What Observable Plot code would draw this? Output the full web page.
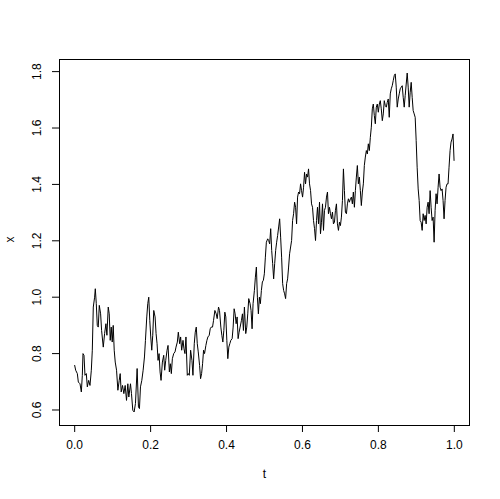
<!DOCTYPE html>
<html>
<head>
<meta charset="utf-8">
<script src="https://cdn.jsdelivr.net/npm/d3@7"></script>
<script src="https://cdn.jsdelivr.net/npm/@observablehq/plot@0.6"></script>
<style>
  html, body { margin: 0; padding: 0; background: #fff; }
  svg { display: block; }
</style>
</head>
<body>
<div id="chart"></div>
<script>
const t = [0,0.0026,0.0070,0.0096,0.0140,0.0175,0.0201,0.0219,0.0245,0.0271,0.0306,0.0333,0.0368,0.0403,0.0438,0.0464,0.0490,0.0525,0.0543,0.0569,0.0595,0.0621,0.0648,0.0683,0.0709,0.0753,0.0788,0.0823,0.0849,0.0884,0.0910,0.0936,0.0963,0.0989,0.1015,0.1041,0.1068,0.1103,0.1138,0.1173,0.1199,0.1225,0.1260,0.1295,0.1330,0.1365,0.1400,0.1426,0.1470,0.1496,0.1531,0.1566,0.1601,0.1645,0.1680,0.1706,0.1733,0.1768,0.1803,0.1838,0.1864,0.1899,0.1925,0.1951,0.1978,0.2004,0.2030,0.2056,0.2083,0.2118,0.2144,0.2170,0.2196,0.2223,0.2249,0.2275,0.2310,0.2345,0.2371,0.2398,0.2433,0.2459,0.2494,0.2520,0.2546,0.2573,0.2608,0.2643,0.2669,0.2704,0.2730,0.2765,0.2791,0.2818,0.2853,0.2879,0.2905,0.2931,0.2966,0.2993,0.3019,0.3054,0.3089,0.3115,0.3150,0.3176,0.3203,0.3229,0.3255,0.3290,0.3316,0.3343,0.3369,0.3395,0.3421,0.3456,0.3483,0.3509,0.3544,0.3570,0.3596,0.3631,0.3658,0.3693,0.3728,0.3754,0.3789,0.3815,0.3850,0.3876,0.3903,0.3929,0.3955,0.3981,0.4008,0.4034,0.4060,0.4086,0.4113,0.4148,0.4174,0.4200,0.4226,0.4253,0.4279,0.4305,0.4331,0.4358,0.4393,0.4419,0.4445,0.4471,0.4506,0.4533,0.4559,0.4585,0.4620,0.4646,0.4673,0.4699,0.4734,0.4760,0.4786,0.4813,0.4839,0.4865,0.4891,0.4918,0.4944,0.4970,0.4996,0.5023,0.5049,0.5084,0.5110,0.5136,0.5163,0.5189,0.5215,0.5241,0.5268,0.5294,0.5320,0.5346,0.5373,0.5399,0.5425,0.5451,0.5478,0.5504,0.5530,0.5556,0.5583,0.5609,0.5635,0.5661,0.5688,0.5714,0.5740,0.5766,0.5793,0.5819,0.5845,0.5871,0.5898,0.5924,0.5950,0.5976,0.6003,0.6029,0.6055,0.6081,0.6108,0.6134,0.6160,0.6186,0.6213,0.6239,0.6265,0.6291,0.6318,0.6344,0.6370,0.6396,0.6423,0.6449,0.6475,0.6501,0.6528,0.6554,0.6580,0.6606,0.6633,0.6659,0.6685,0.6711,0.6738,0.6764,0.6790,0.6816,0.6843,0.6869,0.6895,0.6921,0.6948,0.6974,0.7000,0.7026,0.7053,0.7079,0.7105,0.7131,0.7158,0.7184,0.7210,0.7236,0.7263,0.7289,0.7315,0.7341,0.7368,0.7394,0.7420,0.7446,0.7473,0.7499,0.7525,0.7551,0.7578,0.7604,0.7630,0.7656,0.7683,0.7709,0.7735,0.7761,0.7788,0.7814,0.7840,0.7866,0.7893,0.7919,0.7945,0.7971,0.7998,0.8024,0.8050,0.8076,0.8103,0.8129,0.8155,0.8181,0.8208,0.8234,0.8260,0.8286,0.8313,0.8339,0.8365,0.8391,0.8418,0.8444,0.8470,0.8496,0.8523,0.8549,0.8575,0.8601,0.8628,0.8654,0.8680,0.8706,0.8733,0.8759,0.8785,0.8811,0.8838,0.8864,0.8890,0.8916,0.8943,0.8969,0.8995,0.9021,0.9048,0.9074,0.9100,0.9126,0.9153,0.9179,0.9205,0.9231,0.9258,0.9284,0.9310,0.9336,0.9363,0.9389,0.9415,0.9441,0.9468,0.9494,0.9520,0.9546,0.9573,0.9599,0.9625,0.9651,0.9678,0.9704,0.9730,0.9756,0.9783,0.9809,0.9835,0.9861,0.9888,0.9914,0.9940,0.9966,0.9993];

const x = [0.758,0.741,0.729,0.699,0.693,0.664,0.723,0.800,0.794,0.723,0.729,0.682,0.705,0.687,0.741,0.812,0.965,1.000,1.030,0.977,0.900,0.894,0.971,0.941,0.882,0.823,0.871,0.906,0.865,0.965,0.941,0.847,0.894,0.841,0.900,0.812,0.770,0.741,0.670,0.705,0.729,0.664,0.687,0.658,0.687,0.634,0.693,0.646,0.693,0.658,0.599,0.593,0.623,0.747,0.611,0.605,0.682,0.705,0.741,0.788,0.847,0.930,0.977,1.000,0.918,0.859,0.812,0.865,0.953,0.930,0.871,0.835,0.776,0.800,0.735,0.705,0.770,0.794,0.741,0.776,0.812,0.829,0.735,0.764,0.729,0.782,0.800,0.806,0.823,0.841,0.876,0.835,0.859,0.812,0.847,0.817,0.800,0.859,0.723,0.729,0.723,0.812,0.776,0.723,0.835,0.876,0.894,0.835,0.806,0.758,0.711,0.729,0.764,0.812,0.800,0.829,0.847,0.859,0.865,0.888,0.894,0.894,0.918,0.953,0.941,0.924,0.965,0.953,0.894,0.865,0.841,0.882,0.947,0.930,0.847,0.782,0.823,0.835,0.847,0.853,0.894,0.959,0.941,0.906,0.930,0.853,0.876,0.894,0.918,0.941,0.882,0.965,0.871,0.894,0.941,0.995,0.977,0.953,0.888,0.977,1.024,1.071,1.107,1.000,0.941,1.000,0.977,1.024,1.054,1.060,1.083,1.142,1.195,1.207,1.201,1.189,1.243,1.166,1.119,1.065,1.119,1.166,1.195,1.219,1.249,1.278,1.213,1.142,1.048,1.024,1.012,0.995,1.048,1.065,1.107,1.154,1.178,1.201,1.272,1.296,1.337,1.319,1.260,1.355,1.373,1.367,1.402,1.378,1.355,1.390,1.443,1.402,1.437,1.426,1.455,1.402,1.378,1.331,1.319,1.272,1.243,1.201,1.272,1.319,1.260,1.337,1.225,1.266,1.331,1.237,1.308,1.319,1.355,1.373,1.296,1.319,1.296,1.278,1.302,1.260,1.266,1.308,1.331,1.260,1.237,1.266,1.254,1.284,1.343,1.455,1.378,1.302,1.296,1.331,1.349,1.337,1.349,1.355,1.331,1.373,1.319,1.378,1.426,1.467,1.402,1.426,1.378,1.325,1.373,1.402,1.467,1.497,1.520,1.508,1.544,1.520,1.567,1.603,1.668,1.685,1.644,1.615,1.674,1.685,1.656,1.685,1.697,1.668,1.626,1.650,1.697,1.680,1.674,1.691,1.703,1.638,1.721,1.739,1.750,1.768,1.786,1.792,1.745,1.674,1.703,1.721,1.739,1.745,1.750,1.709,1.674,1.715,1.756,1.795,1.745,1.674,1.727,1.762,1.709,1.662,1.650,1.638,1.556,1.461,1.384,1.343,1.272,1.266,1.237,1.296,1.272,1.290,1.260,1.319,1.337,1.296,1.378,1.319,1.272,1.284,1.195,1.308,1.367,1.331,1.390,1.437,1.390,1.378,1.384,1.343,1.278,1.343,1.390,1.402,1.402,1.461,1.520,1.550,1.561,1.579,1.485];

const xTicks = [0.0, 0.2, 0.4, 0.6, 0.8, 1.0];
const yTicks = [0.6, 0.8, 1.0, 1.2, 1.4, 1.6, 1.8];
const xLabel = "t";
const yLabel = "x";

const data = t.map((ti, i) => ({t: ti, x: x[i]}));
const fmt = d => d.toFixed(1);
const font = "Liberation Sans, Arial, Helvetica, sans-serif";

const chart = Plot.plot({
  width: 500,
  height: 499,
  marginLeft: 59,
  marginRight: 31,
  marginTop: 59,
  marginBottom: 74,
  style: {fontFamily: font, fontSize: "12px", color: "#000", background: "#fff"},
  x: {domain: [-0.04, 1.04]},
  y: {domain: [0.545, 1.843]},
  marks: [
    Plot.frame({stroke: "#000", strokeWidth: 1}),
    Plot.line(data, {x: "t", y: "x", stroke: "#000", strokeWidth: 1}),
    Plot.axisX(xTicks, {tickSize: 7, tickPadding: 8, tickFormat: fmt, fontSize: 12, stroke: "#000", label: null}),
    Plot.axisY(yTicks, {tickSize: 7, tickFormat: () => "", stroke: "#000", label: null}),
    Plot.text(yTicks, {y: d => d, text: fmt, frameAnchor: "left", dx: -22, rotate: -90, textAnchor: "middle", fontSize: 12, fill: "#000"}),
    Plot.text([xLabel], {frameAnchor: "bottom", dy: 52, fontSize: 12, fill: "#000"}),
    Plot.text([yLabel], {frameAnchor: "left", dx: -49, rotate: -90, fontSize: 12, fill: "#000"})
  ]
});
document.getElementById("chart").appendChild(chart);
</script>
</body>
</html>
